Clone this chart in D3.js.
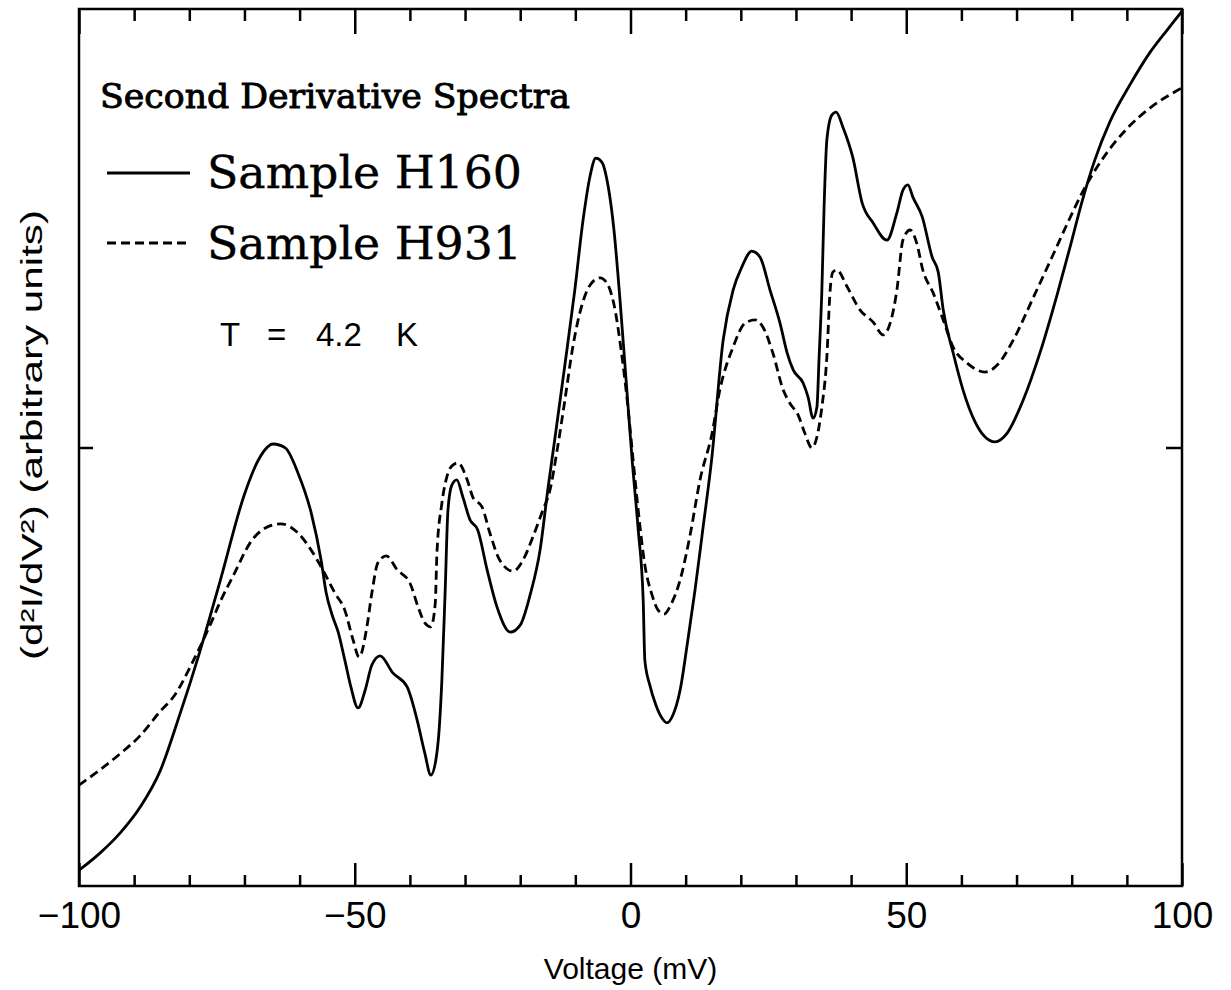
<!DOCTYPE html>
<html>
<head>
<meta charset="utf-8">
<script src="https://cdn.jsdelivr.net/npm/d3@7"></script>
<style>
  body { margin: 0; background: #fff; }
  svg { display: block; }
  .axis path { display: none; }
  .axis line { stroke: #000; stroke-width: 2.5; }
  .axis text { font-family: "Liberation Sans", Arial, sans-serif; font-size: 37px; fill: #000; }
</style>
</head>
<body>
<div id="chart"></div>
<script>
// Sample H160 (solid): voltage in mV, d2I/dV2 in arbitrary units
var voltageH160 = [-100, -96.2, -92.6, -88.9, -85.3, -81.7, -79.9, -78.1, -74.4, -69.9, -67.5, -64.8, -62.6,
  -60.3, -57.9, -56.1, -55.2, -54.1, -53.0, -51.8, -50.7, -49.4, -48.1, -46.9, -45.4, -43.1, -40.5, -38.7,
  -37.3, -36.2, -35.3, -34.7, -34.2, -33.6, -33.1, -32.4, -31.5, -30.4, -29.1, -27.7, -26.0, -24.2, -21.8,
  -20.0, -18.2, -16.4, -15.0, -13.5, -11.9, -10.1, -8.6, -7.3, -6.3, -5.2, -4.1, -3.0, -1.9, -0.8, 0.3, 1.4,
  2.3, 2.6, 3.5, 4.6, 5.7, 6.6, 7.7, 9.0, 10.4, 11.7, 13.1, 14.7, 16.8, 18.6, 20.2, 22.0, 23.5, 25.3, 27.1,
  28.4, 29.5, 31.3, 32.2, 33.1, 33.8, 34.2, 34.7, 35.1, 35.6, 36.5, 37.3, 38.5, 40.3, 42.0, 44.0, 46.5, 48.3,
  49.4, 50.3, 51.2, 52.9, 54.7, 55.8, 56.7, 58.5, 60.3, 62.5, 64.3, 66.1, 68.3, 71.2, 74.3, 77.3, 79.7, 81.9,
  84.2, 86.9, 90.6, 94.2, 97.3, 100];
var signalH160 = [-0.964, -0.925, -0.880, -0.820, -0.738, -0.608, -0.539, -0.466, -0.304, -0.103, -0.029,
  0.008, -0.001, -0.058, -0.149, -0.257, -0.330, -0.382, -0.421, -0.485, -0.546, -0.594, -0.553, -0.496,
  -0.475, -0.514, -0.546, -0.621, -0.697, -0.747, -0.713, -0.644, -0.530, -0.325, -0.143, -0.086, -0.074,
  -0.113, -0.165, -0.188, -0.279, -0.364, -0.421, -0.405, -0.336, -0.234, -0.097, 0.040, 0.188, 0.359, 0.519,
  0.621, 0.660, 0.651, 0.599, 0.496, 0.336, 0.154, -0.029, -0.188, -0.348, -0.485, -0.542, -0.587, -0.617,
  -0.628, -0.610, -0.553, -0.439, -0.325, -0.188, -0.029, 0.245, 0.359, 0.412, 0.448, 0.434, 0.359, 0.284,
  0.216, 0.177, 0.147, 0.115, 0.067, 0.092, 0.206, 0.359, 0.548, 0.701, 0.758, 0.765, 0.731, 0.662, 0.558,
  0.512, 0.473, 0.535, 0.587, 0.599, 0.571, 0.526, 0.434, 0.400, 0.314, 0.216, 0.131, 0.058, 0.024, 0.013,
  0.033, 0.108, 0.218, 0.346, 0.457, 0.562, 0.656, 0.742, 0.828, 0.901, 0.952, 0.995];

// Sample H931 (dashed)
var voltageH931 = [-100, -96.2, -92.6, -88.9, -85.3, -82.6, -79.9, -78.1, -76.2, -74.4, -71.7, -69.0, -66.3,
  -63.4, -60.3, -57.9, -55.8, -53.6, -51.8, -50.3, -49.2, -47.8, -46.9, -45.8, -44.3, -42.3, -40.0, -38.5,
  -37.3, -36.2, -35.4, -35.1, -34.2, -33.3, -32.4, -31.3, -29.6, -28.6, -26.9, -25.5, -23.7, -21.3, -19.5,
  -17.7, -15.9, -14.6, -13.3, -11.9, -10.4, -8.8, -7.3, -5.5, -4.1, -2.8, -1.7, -0.6, 0.3, 1.4, 2.6, 3.9, 5.0,
  6.1, 7.3, 9.0, 10.8, 12.6, 14.8, 16.2, 18.6, 20.8, 22.6, 24.0, 25.8, 27.7, 28.9, 30.4, 31.6, 32.9, 33.8,
  34.7, 35.6, 36.2, 36.7, 37.4, 39.3, 41.6, 44.0, 45.8, 47.1, 48.3, 49.4, 50.7, 51.9, 53.0, 54.9, 56.7, 58.5,
  61.0, 64.3, 66.5, 69.4, 73.0, 76.6, 79.7, 81.9, 85.1, 90.0, 94.7, 100];
var signalH931 = [-0.770, -0.735, -0.699, -0.657, -0.602, -0.564, -0.502, -0.456, -0.404, -0.352, -0.284,
  -0.218, -0.184, -0.174, -0.195, -0.234, -0.279, -0.332, -0.371, -0.439, -0.478, -0.409, -0.332, -0.263,
  -0.247, -0.279, -0.309, -0.364, -0.400, -0.409, -0.355, -0.241, -0.127, -0.067, -0.042, -0.035, -0.074,
  -0.113, -0.136, -0.195, -0.257, -0.282, -0.257, -0.204, -0.143, -0.097, -0.006, 0.108, 0.234, 0.325, 0.371,
  0.387, 0.371, 0.314, 0.222, 0.108, -0.006, -0.143, -0.268, -0.336, -0.371, -0.380, -0.359, -0.302, -0.200,
  -0.074, 0.033, 0.131, 0.229, 0.284, 0.291, 0.275, 0.216, 0.131, 0.101, 0.074, 0.033, -0.001, 0.024, 0.092,
  0.206, 0.359, 0.400, 0.405, 0.366, 0.314, 0.286, 0.257, 0.284, 0.359, 0.473, 0.496, 0.466, 0.405, 0.352,
  0.291, 0.229, 0.193, 0.172, 0.188, 0.245, 0.341, 0.439, 0.524, 0.581, 0.649, 0.727, 0.779, 0.820];

var xMajorTicks = [-100, -50, 0, 50, 100];
var xMinorTicks = [-90, -80, -70, -60, -40, -30, -20, -10, 10, 20, 30, 40, 60, 70, 80, 90];
var yTicks = [0];
var seriesNames = ["Sample H160", "Sample H931"];
var tempLabel = ["T", "=", "4.2", "K"];

var width = 1231, height = 990;
var margin = {left: 79, right: 49, top: 9, bottom: 104};

var x = d3.scaleLinear().domain([-100, 100]).range([margin.left, width - margin.right]);
var y = d3.scaleLinear().domain([-1, 1]).range([height - margin.bottom, margin.top]);

var svg = d3.select("#chart").append("svg")
    .attr("width", width)
    .attr("height", height);

svg.append("clipPath").attr("id", "clip")
  .append("rect")
    .attr("x", x(-100)).attr("y", y(1))
    .attr("width", x(100) - x(-100)).attr("height", y(-1) - y(1));

// ticks: bottom (with labels) and top, pointing inward
svg.append("g").attr("class", "axis")
    .attr("transform", "translate(0," + y(-1) + ")")
    .call(d3.axisBottom(x).tickValues(xMinorTicks).tickSize(-11).tickFormat(""));
svg.append("g").attr("class", "axis")
    .attr("transform", "translate(0," + y(-1) + ")")
    .call(d3.axisBottom(x).tickValues(xMajorTicks).tickSize(-23).tickPadding(16));
svg.append("g").attr("class", "axis")
    .attr("transform", "translate(0," + y(1) + ")")
    .call(d3.axisTop(x).tickValues(xMinorTicks).tickSize(-12).tickFormat(""));
svg.append("g").attr("class", "axis")
    .attr("transform", "translate(0," + y(1) + ")")
    .call(d3.axisTop(x).tickValues(xMajorTicks).tickSize(-25).tickFormat(""));

svg.append("g").attr("class", "axis")
    .attr("transform", "translate(" + x(-100) + ",0)")
    .call(d3.axisLeft(y).tickValues(yTicks).tickSize(-14).tickFormat(""));
svg.append("g").attr("class", "axis")
    .attr("transform", "translate(" + x(100) + ",0)")
    .call(d3.axisRight(y).tickValues(yTicks).tickSize(-16).tickFormat(""));

// frame
svg.append("rect")
    .attr("x", x(-100)).attr("y", y(1))
    .attr("width", x(100) - x(-100)).attr("height", y(-1) - y(1))
    .attr("fill", "none").attr("stroke", "#000").attr("stroke-width", 2.5);

var line = d3.line()
    .x(function(d) { return x(d[0]); })
    .y(function(d) { return y(d[1]); })
    .curve(d3.curveMonotoneX);

svg.append("path")
    .datum(d3.zip(voltageH160, signalH160))
    .attr("clip-path", "url(#clip)")
    .attr("fill", "none").attr("stroke", "#000").attr("stroke-width", 2.8)
    .attr("stroke-linejoin", "round")
    .attr("d", line);

svg.append("path")
    .datum(d3.zip(voltageH931, signalH931))
    .attr("clip-path", "url(#clip)")
    .attr("fill", "none").attr("stroke", "#000").attr("stroke-width", 2.8)
    .attr("stroke-dasharray", "9,5")
    .attr("d", line);

// axis titles
svg.append("text")
    .attr("x", x(0))
    .attr("y", 979)
    .attr("text-anchor", "middle")
    .attr("font-family", "Liberation Sans, Arial, sans-serif")
    .attr("font-size", 30)
    .text("Voltage (mV)");

svg.append("text")
    .attr("transform", "translate(42," + 435 + ") rotate(-90)")
    .attr("text-anchor", "middle")
    .attr("font-family", "Liberation Sans, Arial, sans-serif")
    .attr("font-size", 30)
    .attr("textLength", 450)
    .attr("lengthAdjust", "spacingAndGlyphs")
    .text("(d\u00b2I/dV\u00b2)  (arbitrary units)");

// title and legend
svg.append("text")
    .attr("x", 100).attr("y", 108)
    .attr("font-family", "DejaVu Serif, serif")
    .attr("font-size", 33)
    .attr("stroke", "#000").attr("stroke-width", 0.9)
    .attr("textLength", 470)
    .attr("lengthAdjust", "spacingAndGlyphs")
    .text("Second Derivative Spectra");

var legend = svg.append("g");
var legendRows = [
  {name: seriesNames[0], dash: null, ly: 173, ty: 188},
  {name: seriesNames[1], dash: "9,5", ly: 243, ty: 259}
];
legendRows.forEach(function(r) {
  legend.append("line")
      .attr("x1", 107).attr("x2", 190)
      .attr("y1", r.ly).attr("y2", r.ly)
      .attr("stroke", "#000").attr("stroke-width", 2.8)
      .attr("stroke-dasharray", r.dash);
  legend.append("text")
      .attr("x", 207).attr("y", r.ty)
      .attr("font-family", "DejaVu Serif, serif")
      .attr("font-size", 44)
      .attr("stroke", "#000").attr("stroke-width", 0.4)
      .attr("textLength", 315)
      .attr("lengthAdjust", "spacingAndGlyphs")
      .text(r.name);
});

var tempX = [220, 267, 316, 396];
svg.append("g").selectAll("text")
    .data(tempLabel)
  .enter().append("text")
    .attr("x", function(d, i) { return tempX[i]; })
    .attr("y", 346)
    .attr("font-family", "Liberation Sans, Arial, sans-serif")
    .attr("font-size", 33)
    .text(function(d) { return d; });
</script>
</body>
</html>
